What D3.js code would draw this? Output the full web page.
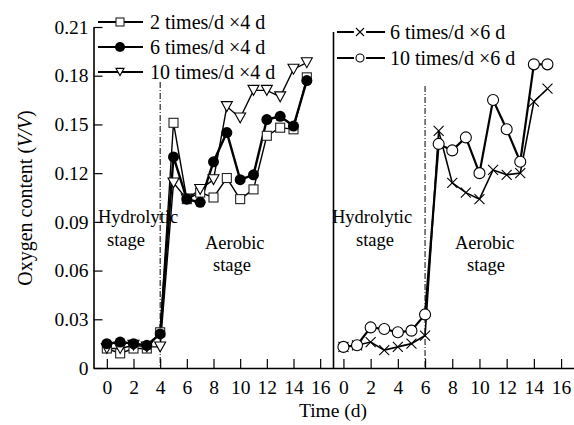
<!DOCTYPE html>
<html><head><meta charset="utf-8">
<script src="https://cdn.jsdelivr.net/npm/d3@7"></script>
<style>
body{margin:0;background:#fff}
svg{display:block}
text{font-family:"Liberation Serif","Times New Roman",serif;fill:#000}
</style>
</head><body>
<svg id="c" width="574" height="425"></svg>
<script>
// ---- data ----
const days = [0,1,2,3,4,5,6,7,8,9,10,11,12,13,14,15];
const sq2x4   = [0.012,0.009,0.012,0.012,0.022,0.151,0.104,0.108,0.105,0.117,0.104,0.110,0.143,0.148,0.147,0.179];
const dot6x4  = [0.015,0.016,0.015,0.014,0.021,0.130,0.104,0.102,0.127,0.145,0.116,0.119,0.153,0.155,0.149,0.177];
const tri10x4 = [0.012,0.012,0.014,0.013,0.013,0.114,0.104,0.110,0.116,0.161,0.154,0.171,0.171,0.167,0.184,0.188];
const cross6x6 = [0.013,0.014,0.016,0.011,0.013,0.015,0.020,0.146,0.114,0.108,0.104,0.122,0.119,0.120,0.164,0.172];
const circ10x6 = [0.013,0.014,0.025,0.024,0.022,0.023,0.033,0.138,0.134,0.142,0.120,0.165,0.147,0.127,0.187,0.187];
const yTicks = [0,0.03,0.06,0.09,0.12,0.15,0.18,0.21];
const yTickLabels = ["0","0.03","0.06","0.09","0.12","0.15","0.18","0.21"];
const xTicks = [0,2,4,6,8,10,12,14,16];
const legendLeft = ["2 times/d \u00d74 d","6 times/d \u00d74 d","10 times/d \u00d74 d"];
const legendRight = ["6 times/d \u00d76 d","10 times/d \u00d76 d"];
const yTitle = ["Oxygen content (","V/V",")"];
const xTitle = "Time (d)";
const stageLabels = ["Hydrolytic","stage","Aerobic","stage"];
const switchDays = [4, 6];

// ---- layout ----
const svg = d3.select("#c");
const y = d3.scaleLinear().domain([0,0.21]).range([368,27]);
const xL = d3.scaleLinear().domain([-1,17]).range([93.5,333.5]);
const xR = d3.scaleLinear().domain([-0.73,16.95]).range([333.5,574]);

// axes
const yAxis = d3.axisLeft(y).tickValues(yTicks).tickFormat((d,i)=>yTickLabels[i])
  .tickSizeInner(-9).tickSizeOuter(0).tickPadding(5);
const gy = svg.append("g").attr("transform","translate(93.5,0)").call(yAxis);

function xAxis(sc){
  return d3.axisBottom(sc).tickValues(xTicks).tickSizeInner(-9).tickSizeOuter(0).tickPadding(12);
}
const gxL = svg.append("g").attr("transform","translate(0,368)").call(xAxis(xL));
const gxR = svg.append("g").attr("transform","translate(0,368)").call(xAxis(xR));
[gy,gxL,gxR].forEach(g=>{
  g.selectAll("path").attr("stroke","#000").attr("stroke-width",1.6);
  g.selectAll("line").attr("stroke","#000").attr("stroke-width",1.2);
  g.selectAll("text").attr("font-size",19.5).attr("font-family","Liberation Serif");
});
// right panel vertical axis line
svg.append("line").attr("x1",333.5).attr("x2",333.5).attr("y1",32).attr("y2",368)
  .attr("stroke","#000").attr("stroke-width",1.6);

// dash-dot lines
svg.append("line").attr("x1",xL(switchDays[0])).attr("x2",xL(switchDays[0])).attr("y1",82).attr("y2",368)
  .attr("stroke","#000").attr("stroke-width",1).attr("stroke-dasharray","6,2,1,2");
svg.append("line").attr("x1",xR(switchDays[1])).attr("x2",xR(switchDays[1])).attr("y1",86).attr("y2",368)
  .attr("stroke","#000").attr("stroke-width",1).attr("stroke-dasharray","6,2,1,2");

// titles
const yt = svg.append("text").attr("transform","translate(32,198) rotate(-90)")
  .attr("text-anchor","middle").attr("font-size",20);
yt.append("tspan").text(yTitle[0]);
yt.append("tspan").attr("font-style","italic").text(yTitle[1]);
yt.append("tspan").text(yTitle[2]);
svg.append("text").attr("x",333).attr("y",417).attr("text-anchor","middle").attr("font-size",19.5).text(xTitle);

// stage labels
const st = [
  [98,223,0],[107,246,1],[205,249,2],[213,271,3],
  [332,223,0],[356,246,1],[455,249,2],[467,271,3]
];
st.forEach(s=>svg.append("text").attr("x",s[0]).attr("y",s[1]).attr("font-size",18.5).text(stageLabels[s[2]]));

// markers
function marker(g, type, cx, cy, s){
  if(type==="square"){
    g.append("rect").attr("x",cx-s/2).attr("y",cy-s/2).attr("width",s).attr("height",s)
      .attr("fill","#fff").attr("stroke","#222").attr("stroke-width",1.1);
  } else if(type==="dot"){
    g.append("circle").attr("cx",cx).attr("cy",cy).attr("r",s/2).attr("fill","#000");
  } else if(type==="tri"){
    const h=s*0.9;
    g.append("path").attr("d",`M${cx-s/2},${cy-h/2}L${cx+s/2},${cy-h/2}L${cx},${cy+h/2}Z`)
      .attr("fill","#fff").attr("stroke","#000").attr("stroke-width",1.1);
  } else if(type==="cross"){
    const a=s/2;
    g.append("path").attr("d",`M${cx-a},${cy-a}L${cx+a},${cy+a}M${cx-a},${cy+a}L${cx+a},${cy-a}`)
      .attr("stroke","#000").attr("stroke-width",1.1).attr("fill","none");
  } else if(type==="circ"){
    g.append("circle").attr("cx",cx).attr("cy",cy).attr("r",s/2).attr("fill","#fff")
      .attr("stroke","#000").attr("stroke-width",1.1);
  }
}

const series = [
  {vals:sq2x4, x:xL, type:"square", size:9, lw:1.4},
  {vals:tri10x4, x:xL, type:"tri", size:11, lw:1.4},
  {vals:dot6x4, x:xL, type:"dot", size:11, lw:2.4},
  {vals:cross6x6, x:xR, type:"cross", size:10, lw:1.6},
  {vals:circ10x6, x:xR, type:"circ", size:11, lw:2.2}
];
series.forEach(s=>{
  const line = d3.line().x((d,i)=>s.x(days[i])).y(d=>y(d));
  svg.append("path").attr("d",line(s.vals)).attr("fill","none").attr("stroke","#000").attr("stroke-width",s.lw);
});
series.forEach(s=>{
  const g = svg.append("g");
  s.vals.forEach((v,i)=>marker(g,s.type,s.x(days[i]),y(v),s.size));
});

// legends
const legL = [["square",22],["dot",47],["tri",72]];
legL.forEach((l,i)=>{
  const g = svg.append("g");
  g.append("line").attr("x1",98).attr("x2",143).attr("y1",l[1]).attr("y2",l[1]).attr("stroke","#000").attr("stroke-width",2);
  marker(g,l[0],120,l[1],l[0]==="dot"?10:8);
  g.append("text").attr("x",150).attr("y",l[1]).attr("dy","0.35em").attr("font-size",20).text(legendLeft[i]);
});
const legR = [["cross",32],["circ",58]];
legR.forEach((l,i)=>{
  const g = svg.append("g");
  g.append("line").attr("x1",337).attr("x2",385).attr("y1",l[1]).attr("y2",l[1]).attr("stroke","#000").attr("stroke-width",2);
  g.append("rect").attr("x",354).attr("y",l[1]-5).attr("width",12).attr("height",10).attr("fill","#fff");
  marker(g,l[0],360,l[1],8);
  g.append("text").attr("x",390).attr("y",l[1]).attr("dy","0.35em").attr("font-size",20).text(legendRight[i]);
});
</script>
</body></html>
